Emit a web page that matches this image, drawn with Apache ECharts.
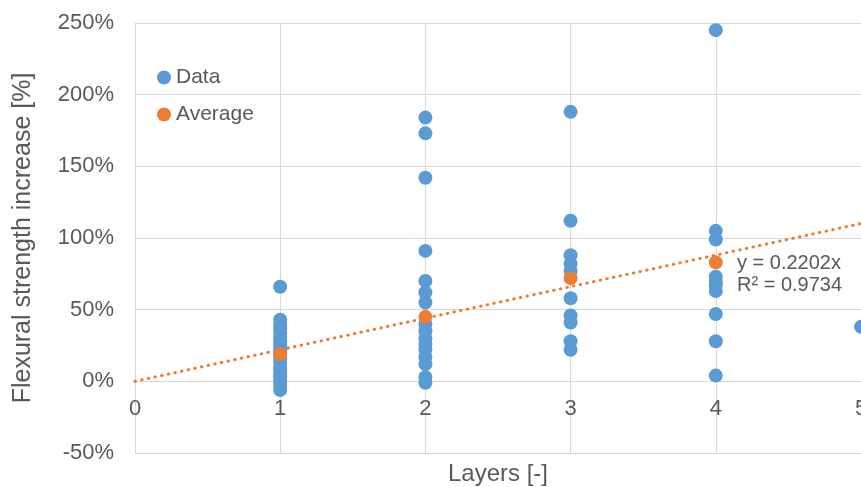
<!DOCTYPE html>
<html>
<head>
<meta charset="utf-8">
<script src="https://cdn.jsdelivr.net/npm/echarts@6/dist/echarts.min.js"></script>
<style>
  html, body { margin: 0; padding: 0; background: #fff; }
  #chart { width: 861px; height: 487px; }
</style>
</head>
<body>
<div id="chart"></div>
<script>
// Flexural strength increase per number of layers (values in %)
const layers1 = [66, 43, 40, 37, 34, 31, 28, 25, 22, 19, 16, 13, 10, 8, 5, 3, 0, -3, -6];
const layers2 = [184, 173, 142, 91, 70, 62, 55, 40, 35, 30, 26, 22, 17, 12, 3, -1];
const layers3 = [188, 112, 88, 82, 77, 58, 46, 41, 28, 22];
const layers4 = [245, 105, 99, 73, 70, 67, 63, 47, 28, 4];
const layers5 = [38];

const averageLayers = [1, 2, 3, 4];
const averageValues = [19, 45, 72, 83];

// Linear trend through the origin fitted to the averages
const trendSlope = 0.2202;
const trendR2 = 0.9734;
const trendRange = [0, 5];

const xTicks = { min: 0, max: 5, interval: 1 };
const yTicks = { min: -50, max: 250, interval: 50 };

const groups = [layers1, layers2, layers3, layers4, layers5];
const dataPoints = [];
groups.forEach((vals, i) => vals.forEach(v => dataPoints.push([i + 1, v])));
const averagePoints = averageLayers.map((x, i) => [x, averageValues[i]]);
const trendPoints = trendRange.map(x => [x, trendSlope * 100 * x]);

const textColor = '#595959';
const gridColor = '#D9D9D9';
const font = '"Liberation Sans", Arial, sans-serif';

const chartW = 861, chartH = 487;
const grid = { left: 135, right: 0, top: 23, bottom: 34 };
// Lift the x axis from the bottom edge up to the y = 0 line
const plotH = chartH - grid.top - grid.bottom;
const zeroOffset = -plotH * (0 - yTicks.min) / (yTicks.max - yTicks.min);

const chart = echarts.init(document.getElementById('chart'));
chart.setOption({
  animation: false,
  textStyle: { fontFamily: font },
  grid: Object.assign({ outerBoundsMode: 'none' }, grid),
  legend: {
    data: ['Data', 'Average'],
    orient: 'vertical',
    left: 152,
    top: 62,
    icon: 'circle',
    itemWidth: 14,
    itemHeight: 14,
    itemGap: 16,
    textStyle: { color: textColor, fontSize: 21, fontFamily: font }
  },
  xAxis: {
    type: 'value',
    min: xTicks.min,
    max: xTicks.max,
    interval: xTicks.interval,
    position: 'bottom',
    offset: zeroOffset,
    name: 'Layers [-]',
    nameLocation: 'middle',
    nameGap: 81,
    nameTextStyle: { color: textColor, fontSize: 24, fontFamily: font },
    axisLine: { onZero: false, lineStyle: { color: gridColor, width: 1 } },
    axisTick: { show: false },
    axisLabel: { color: textColor, fontSize: 22, margin: 17, fontFamily: font },
    splitLine: { show: true, lineStyle: { color: gridColor, width: 1 } }
  },
  yAxis: {
    type: 'value',
    min: yTicks.min,
    max: yTicks.max,
    interval: yTicks.interval,
    name: 'Flexural strength increase [%]',
    nameLocation: 'middle',
    nameGap: 99,
    nameTextStyle: { color: textColor, fontSize: 25, fontFamily: font },
    axisLine: { show: true, onZero: false, lineStyle: { color: gridColor, width: 1 } },
    axisTick: { show: false },
    axisLabel: { color: textColor, fontSize: 22, margin: 21, formatter: '{value}%', fontFamily: font },
    splitLine: { show: true, lineStyle: { color: gridColor, width: 1 } }
  },
  series: [
    {
      name: 'Trend',
      type: 'line',
      data: trendPoints,
      showSymbol: false,
      symbol: 'none',
      silent: true,
      z: 1,
      lineStyle: { color: '#ED7D31', width: 3, type: [0.5, 6.3], cap: 'round' }
    },
    {
      name: 'Data',
      type: 'scatter',
      data: dataPoints,
      symbol: 'circle',
      symbolSize: 14,
      z: 2,
      itemStyle: { color: '#5B9BD5', opacity: 1 }
    },
    {
      name: 'Average',
      type: 'scatter',
      data: averagePoints,
      symbol: 'circle',
      symbolSize: 14,
      z: 3,
      itemStyle: { color: '#ED7D31', opacity: 1 }
    }
  ],
  graphic: [
    {
      type: 'text',
      left: 737,
      top: 252,
      z: 10,
      style: {
        text: 'y = ' + trendSlope.toFixed(4) + 'x\nR² = ' + trendR2.toFixed(4),
        fill: textColor,
        fontSize: 20,
        lineHeight: 22,
        fontFamily: font
      }
    }
  ]
});
</script>
</body>
</html>
